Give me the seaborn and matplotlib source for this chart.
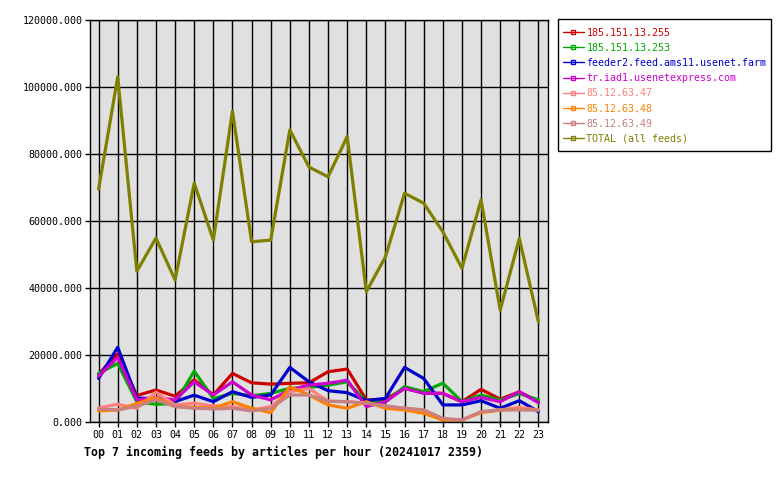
import numpy as np
import pandas as pd
import seaborn as sns
import matplotlib
matplotlib.use('Agg')
import matplotlib.pyplot as plt
from matplotlib.lines import Line2D
from matplotlib.patches import Rectangle
from matplotlib.ticker import FuncFormatter

hours = ['%02d' % h for h in range(24)]

feeds = ['185.151.13.255', '185.151.13.253', 'feeder2.feed.ams11.usenet.farm',
         'tr.iad1.usenetexpress.com', '85.12.63.47', '85.12.63.48', '85.12.63.49',
         'TOTAL (all feeds)']
colors = ['#cc0000', '#00aa00', '#0000cc', '#cc00cc', '#ff8080', '#ff8000', '#c88080', '#808000']

red = [14300, 20300, 7900, 9550, 7700, 12600, 8060, 14500, 11700, 11300, 11550, 11700,
       15000, 15800, 6600, 6800, 10000, 8800, 8500, 6060, 9750, 6800, 9000, 6060]
green = [14500, 17500, 6000, 5300, 5500, 15200, 7000, 8550, 7800, 8550, 10050, 10300,
         11000, 12000, 6060, 6060, 10550, 9050, 11600, 6060, 8060, 6500, 8500, 6600]
blue = [13000, 22300, 7100, 7000, 6100, 8000, 6060, 9050, 7350, 8060, 16300, 12000,
        9350, 8750, 6360, 7070, 16300, 13000, 5100, 5100, 6360, 4100, 6360, 3100]
magenta = [13700, 19300, 6600, 7300, 6600, 12000, 8060, 12000, 8060, 6600, 9550, 11000,
           11550, 12500, 4600, 6060, 10050, 8550, 8550, 6060, 7350, 6060, 9050, 5760]
pink = [4200, 5300, 4100, 8900, 5100, 5600, 4800, 4600, 3600, 4600, 9050, 10000,
        6200, 6060, 5600, 4800, 4100, 3600, 800, 600, 3000, 3600, 4400, 3600]
orange = [3300, 3600, 5500, 7300, 4600, 4400, 4100, 6060, 4100, 2800, 10500, 8060,
          5100, 4100, 6060, 4100, 3600, 2600, 600, 600, 2800, 3600, 3800, 3600]
rosy = [3900, 3600, 4700, 6600, 4600, 4100, 3900, 4100, 3300, 4100, 8060, 8060,
        6200, 6060, 5600, 4800, 4100, 3600, 1100, 600, 3100, 3600, 3600, 3600]
total = [69500, 103000, 45000, 54900, 42400, 71300, 54300, 92800, 53800, 54300, 87200, 76100,
         73200, 85200, 38900, 49300, 68300, 65300, 56800, 45900, 66300, 33400, 54800, 29900]

series = [red, green, blue, magenta, pink, orange, rosy, total]

rows = []
for name, vals in zip(feeds, series):
    for i, v in enumerate(vals):
        rows.append({'feed': name, 'hour': i, 'articles': v})
df = pd.DataFrame(rows)

sns.set_theme(style='white')
plt.rcParams['font.family'] = ['DejaVu Sans Mono']

fig = plt.figure(figsize=(7.8, 4.8), dpi=100)
ax = fig.add_axes([90 / 780, 58 / 480, 458 / 780, 402 / 480])
ax.set_facecolor('#e0e0e0')

sns.lineplot(data=df, x='hour', y='articles', hue='feed', hue_order=feeds,
             palette=dict(zip(feeds, colors)), linewidth=2.3, legend=False,
             sort=False, ax=ax)

ax.set_xlim(-0.45, 23.5)
ax.set_ylim(0, 120000)
ax.set_xticks(range(24))
ax.set_xticklabels(hours)
ax.set_yticks(np.arange(0, 120001, 20000))
ax.yaxis.set_major_formatter(FuncFormatter(lambda v, p: '%.3f' % v))
ax.set_xlabel('')
ax.set_ylabel('')
ax.grid(True, color='black', linewidth=1)
ax.set_axisbelow(True)
for s in ax.spines.values():
    s.set_color('black')
    s.set_linewidth(1)
ax.tick_params(axis='both', which='major', direction='out', length=3.5, width=1,
               color='black', labelsize=7.2, labelcolor='black', bottom=True, left=True, pad=2)

fig.text(84 / 780, 1 - 452 / 480, 'Top 7 incoming feeds by articles per hour (20241017 2359)',
         fontweight='bold', fontsize=8.4, va='center', ha='left', color='black')

# legend frame drawn as a figure rectangle
fig.patches.append(Rectangle((558 / 780, 1 - 151 / 480), 213 / 780, 132 / 480,
                             transform=fig.transFigure, facecolor='white',
                             edgecolor='black', linewidth=1, zorder=0))

handles = [Line2D([0], [0], color=c, lw=1, marker='s', markersize=3,
                  markerfacecolor='none', markeredgewidth=1) for c in colors]
leg = fig.legend(handles, feeds, loc='upper left', bbox_to_anchor=(558 / 780, 1 - 23 / 480),
                 frameon=False, labelcolor='linecolor', fontsize=7.2, handlelength=2.1,
                 handletextpad=0.3, borderpad=0.45, labelspacing=0.52, borderaxespad=0)

fig.savefig('out.png', dpi=100, facecolor='white')
